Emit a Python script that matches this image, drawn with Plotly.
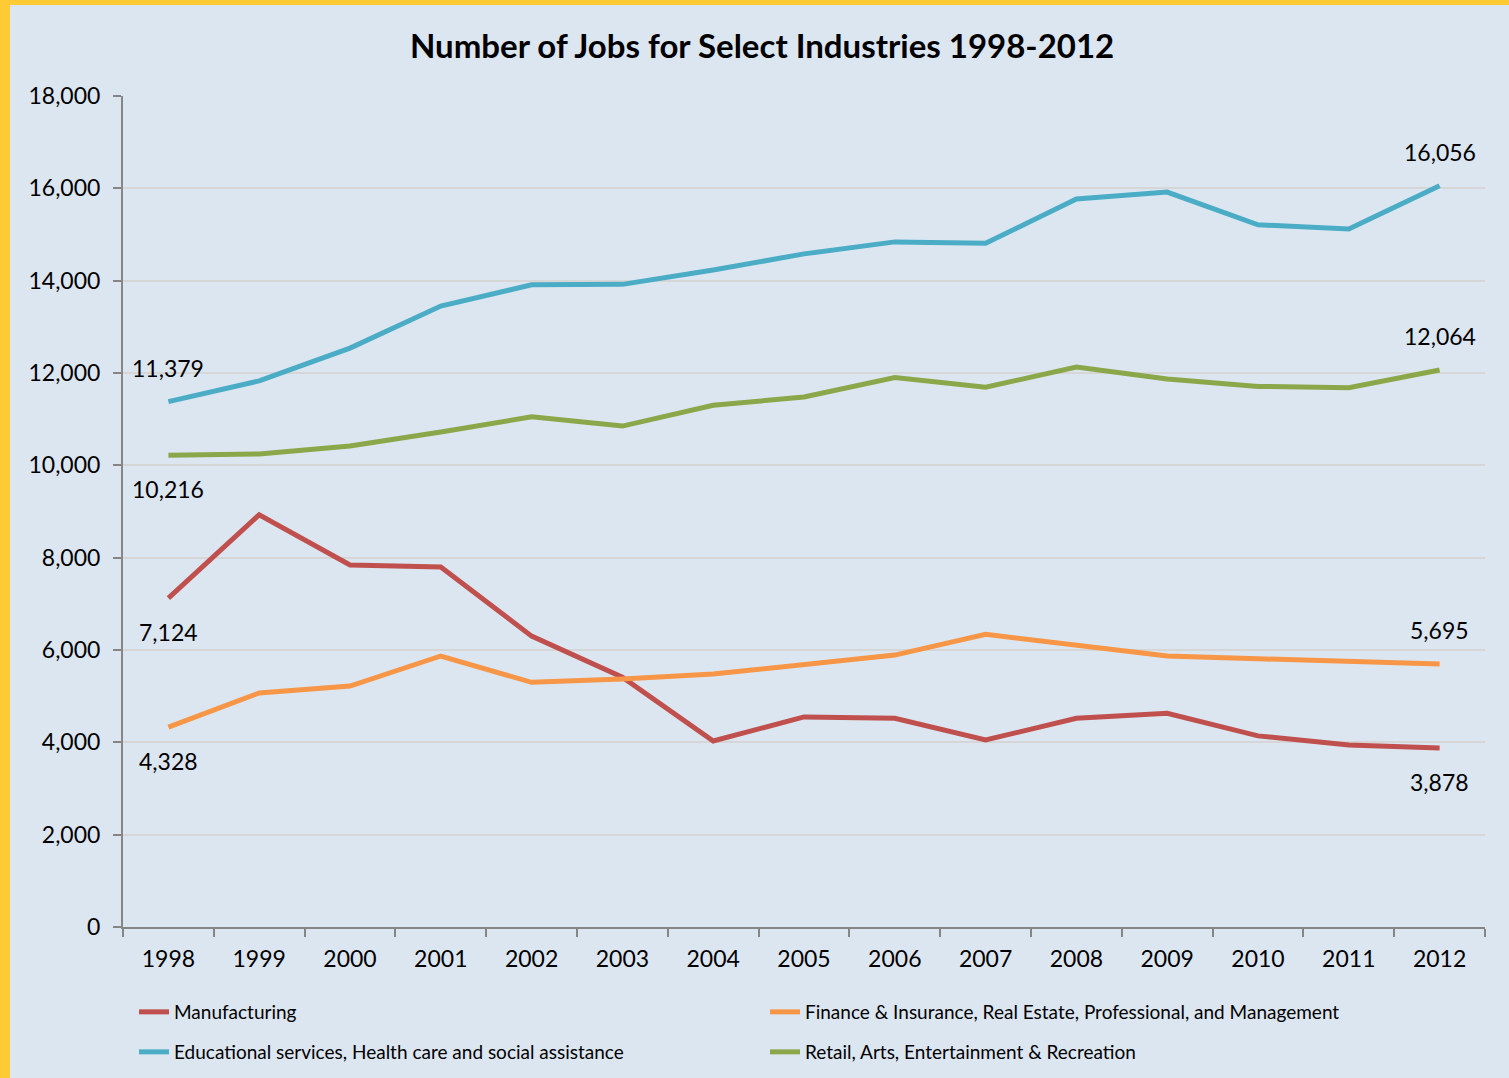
import plotly.graph_objects as go

# Years on the category axis
years = ["1998", "1999", "2000", "2001", "2002", "2003", "2004", "2005",
         "2006", "2007", "2008", "2009", "2010", "2011", "2012"]

# Jobs per industry group
manufacturing = [7124, 8930, 7840, 7800, 6300, 5410, 4030, 4550,
                 4520, 4050, 4520, 4630, 4140, 3940, 3878]
finance = [4328, 5070, 5220, 5870, 5300, 5370, 5480, 5680,
           5890, 6340, 6100, 5870, 5810, 5760, 5695]
education = [11379, 11830, 12540, 13450, 13910, 13920, 14230, 14580,
             14840, 14810, 15770, 15920, 15210, 15120, 16056]
retail = [10216, 10245, 10420, 10720, 11050, 10850, 11300, 11480,
          11900, 11690, 12130, 11870, 11710, 11680, 12064]

series_names = [
    "Manufacturing",
    "Finance & Insurance, Real Estate, Professional, and Management",
    "Educational services, Health care and social assistance",
    "Retail, Arts, Entertainment & Recreation",
]
series_values = [manufacturing, finance, education, retail]
series_colors = ["#C0504D", "#F79646", "#4BACC6", "#8AA84A"]
# Two legend rows: first row holds the first two series
series_legend = ["legend", "legend", "legend2", "legend2"]

# Label placement for first / last points: +1 above, -1 below
first_side = [-1, -1, 1, -1]
last_side = [-1, 1, 1, 1]

FONT = "Lato, 'Open Sans', sans-serif"
BG = "#DCE6F1"
YELLOW = "#FFCB35"

W, H = 1509, 1078
ML, MR, MT, MB = 123, 24, 96, 151
PW, PH = W - ML - MR, H - MT - MB


def px_x(px):
    return (px - ML) / PW


def px_y(py):
    return (MT + PH - py) / PH


fig = go.Figure()
for name, vals, col, lg in zip(series_names, series_values, series_colors, series_legend):
    fig.add_trace(go.Scatter(
        x=years, y=vals, name=name, mode="lines",
        line=dict(color=col, width=5), legend=lg,
    ))

annotations = []
for vals, fs, ls in zip(series_values, first_side, last_side):
    for idx, side in ((0, fs), (len(years) - 1, ls)):
        annotations.append(dict(
            x=idx, y=vals[idx], xref="x", yref="y",
            text=f"{vals[idx]:,}", showarrow=False,
            xanchor="center", yanchor="middle",
            yshift=34 * side,
            font=dict(family=FONT, size=23, color="#000000"),
        ))

# Title
annotations.append(dict(
    x=px_x(762), y=px_y(45), xref="paper", yref="paper",
    text="<b>Number of Jobs for Select Industries 1998-2012</b>",
    showarrow=False, xanchor="center", yanchor="middle",
    font=dict(family=FONT, size=33, color="#000000"),
))

# Yellow frame strips along the left and top edges
shapes = [
    dict(type="rect", xref="paper", yref="paper", layer="above",
         x0=px_x(0), x1=px_x(10), y0=px_y(H), y1=px_y(0),
         fillcolor=YELLOW, line=dict(width=0)),
    dict(type="rect", xref="paper", yref="paper", layer="above",
         x0=px_x(0), x1=px_x(W), y0=px_y(5), y1=px_y(0),
         fillcolor=YELLOW, line=dict(width=0)),
]

legend_common = dict(
    orientation="h", xanchor="left", yanchor="middle",
    entrywidth=586, entrywidthmode="pixels",
    font=dict(family=FONT, size=19, color="#000000"),
    bgcolor="rgba(0,0,0,0)",
)

fig.update_layout(
    width=W, height=H,
    margin=dict(l=ML, r=MR, t=MT, b=MB, autoexpand=False),
    paper_bgcolor=BG, plot_bgcolor=BG,
    font=dict(family=FONT, size=22, color="#000000"),
    showlegend=True,
    legend=dict(x=px_x(134), y=px_y(1012), **legend_common),
    legend2=dict(x=px_x(134), y=px_y(1052), **legend_common),
    annotations=annotations,
    shapes=shapes,
)

fig.update_xaxes(
    type="category", showgrid=False,
    showline=True, linecolor="#868686", linewidth=2,
    ticks="outside", ticklen=8, tickcolor="#868686", tickwidth=2,
    tickson="boundaries", range=[-0.5, len(years) - 0.5],
    tickfont=dict(family=FONT, size=23, color="#000000"),
    ticklabelstandoff=10,
)
fig.update_yaxes(
    range=[0, 18000], tickvals=list(range(0, 18001, 2000)),
    tickformat=",d",
    showgrid=True, gridcolor="#D6D6D6", gridwidth=2,
    showline=True, linecolor="#868686", linewidth=2,
    ticks="outside", ticklen=8, tickcolor="#868686", tickwidth=2,
    zeroline=False, ticklabelstandoff=8,
    tickfont=dict(family=FONT, size=23, color="#000000"),
)

fig.write_html("out.html")
